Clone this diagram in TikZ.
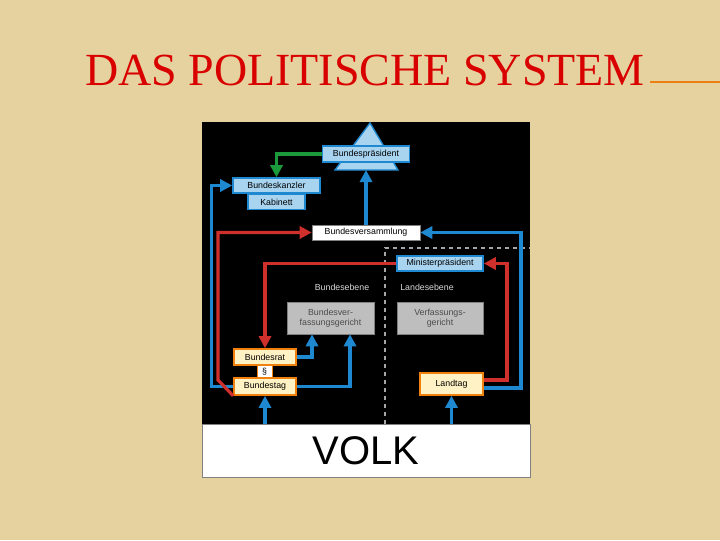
\documentclass[tikz,border=0pt]{standalone}
\usepackage{fontspec}
\setmainfont{Liberation Serif}
\setsansfont{Liberation Sans}
\usetikzlibrary{arrows.meta,positioning}
\definecolor{paper}{HTML}{E6D29E}
\definecolor{arrblue}{HTML}{1E88D0}
\definecolor{arrred}{HTML}{D0302C}
\definecolor{arrgreen}{HTML}{1A9A3A}
\definecolor{boxblue}{HTML}{A8D4F0}
\definecolor{boxyellow}{HTML}{FFF2C4}
\definecolor{boxgrey}{HTML}{BEBEBE}
\tikzset{
  bluebox/.style={draw=arrblue, fill=boxblue, line width=1.2pt, inner sep=1pt, font=\sffamily\fontsize{6.6}{7.5}\selectfont},
  yellowbox/.style={draw=orange!80!brown, fill=boxyellow, line width=1.2pt, inner sep=1pt, font=\sffamily\fontsize{6.6}{7.5}\selectfont},
  greybox/.style={fill=boxgrey, draw=gray, inner sep=1pt, align=center, text=black!70, font=\sffamily\fontsize{6.6}{7.5}\selectfont},
  label/.style={text=white!85!black, font=\sffamily\fontsize{6.6}{7.5}\selectfont},
  line/.style={line width=2.4pt, -{Triangle[width=9pt,length=9pt]}},
}
\begin{document}
\begin{tikzpicture}[x=0.75pt, y=-0.75pt]
    \useasboundingbox (0,0) rectangle (720,540);
    \fill[paper] (0,0) rectangle (720,540);
    % Title
    \node[text=red!85!black, font=\fontsize{34.5}{36}\selectfont] (title) at (365,70) {DAS POLITISCHE SYSTEM};
    \draw[orange!70!brown, line width=0.8pt] (650,82) -- (720,82);
    % Panel
    \fill[black] (202,122) rectangle (530,424);
    \draw[dashed, gray!70, line width=1.5pt] (385,424) -- (385,248) -- (530,248);
    \node[draw=gray, fill=white, minimum width=328*0.75pt, minimum height=53*0.75pt, inner sep=0pt,
          font=\sffamily\fontsize{30}{30}\selectfont] (volk) at (366,450.5) {VOLK};
    % Blocks
    \fill[boxblue, draw=arrblue, line width=1pt] (370,123) -- (398,170) -- (335,170) -- cycle;
    \node[bluebox, minimum width=87*0.75pt, minimum height=16*0.75pt] (praes) at (366,154) {Bundespräsident};
    \node[bluebox, minimum width=87*0.75pt, minimum height=15*0.75pt] (kanzler) at (276.5,185.5) {Bundeskanzler};
    \node[bluebox, minimum width=57*0.75pt, minimum height=15*0.75pt, below=0pt of kanzler] (kabinett) {Kabinett};
    \node[draw=gray, fill=white, inner sep=1pt, minimum width=108*0.75pt, minimum height=15*0.75pt,
          font=\sffamily\fontsize{6.6}{7.5}\selectfont] (versamm) at (366,232.5) {Bundesversammlung};
    \node[bluebox, minimum width=86*0.75pt, minimum height=15*0.75pt] (minpraes) at (440,263.5) {Ministerpräsident};
    \node[label] (bund) at (342,287) {Bundesebene};
    \node[label] (land) at (427,287) {Landesebene};
    \node[greybox, minimum width=87*0.75pt, minimum height=32*0.75pt] (bverfg) at (330.5,318) {Bundesver-\\fassungsgericht};
    \node[greybox, minimum width=86*0.75pt, minimum height=32*0.75pt] (verfg) at (440,318) {Verfassungs-\\gericht};
    \node[yellowbox, minimum width=62*0.75pt, minimum height=16*0.75pt] (brat) at (265,357) {Bundesrat};
    \node[draw=orange!80!brown, fill=white, inner sep=0pt, minimum width=15*0.75pt, minimum height=13*0.75pt,
          font=\sffamily\fontsize{6.6}{7.5}\selectfont] (para) at (264.5,371.5) {§};
    \node[yellowbox, minimum width=62*0.75pt, minimum height=17*0.75pt] (btag) at (265,386.5) {Bundestag};
    \node[yellowbox, minimum width=63*0.75pt, minimum height=22*0.75pt] (ltag) at (451.5,384) {Landtag};
    % Lines
    \draw[line, arrgreen] (praes.west) -| (kanzler.north);
    \draw[line, arrblue] (versamm.north) -- (366,170);
    \draw[line, arrblue] (btag.west) -- ++(-22,0) |- (kanzler.west);
    \draw[line, arrred] (btag.south west) -- (218,380) |- (versamm.west);
    \draw[line, arrblue] ([yshift=-3pt]ltag.east) -- (521,388) |- (versamm.east);
    \draw[line, arrred] ([yshift=3pt]ltag.east) -- (507,380) |- (minpraes.east);
    \draw[line, arrred] (minpraes.west) -| (brat.north);
    \draw[line, arrblue] (brat.east) -| (bverfg.south -| 312,0);
    \draw[line, arrblue] (btag.east) -| (bverfg.south -| 350,0);
    \draw[line, arrblue] (volk.north -| btag.south) -- (btag.south);
    \draw[line, arrblue] (volk.north -| ltag.south) -- (ltag.south);
\end{tikzpicture}
\end{document}
